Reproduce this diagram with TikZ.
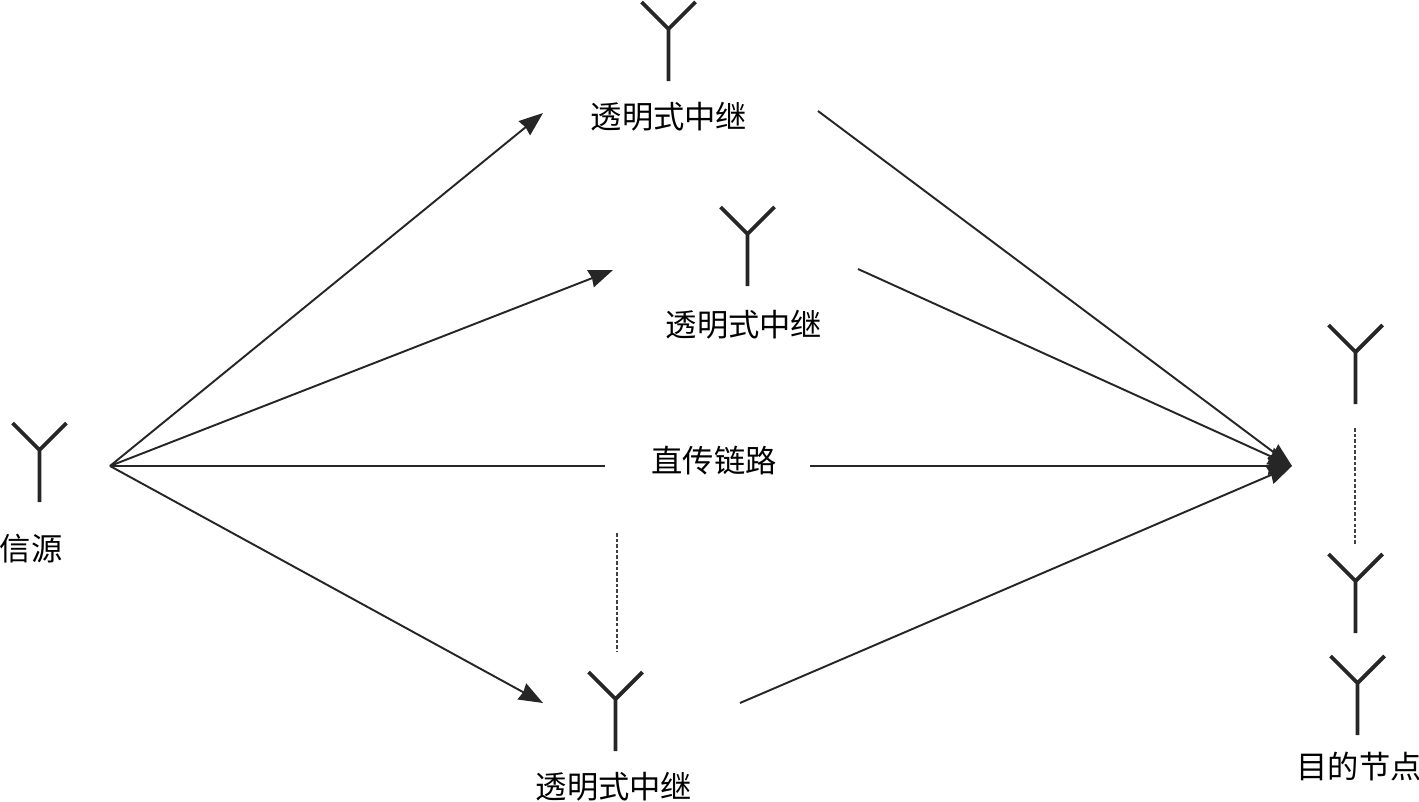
\documentclass[tikz,border=0pt]{standalone}
\usepackage{fontspec}
\setmainfont{Noto Sans CJK SC}
\usetikzlibrary{arrows.meta}
\tikzset{
  link/.style={line width=1.1pt,color=black!85},
  arrowlink/.style={link,-{Stealth[length=0.48cm,width=0.36cm,inset=0.03cm]}},
  antenna/.style={line width=2.2pt,color=black!85},
  gap/.style={line width=1pt,dash pattern=on 2pt off 1.2pt,color=black!75},
  lbl/.style={inner sep=0pt,font=\fontsize{17.8pt}{20pt}\selectfont},
}
\begin{document}
\begin{tikzpicture}[x=0.02cm,y=-0.02cm]
\useasboundingbox (0,0) rectangle (1419,801);
% antennas, junction of the Y given
\foreach \x/\y in {39.5/450,668.5/29,747.5/234,615.5/699,1355.5/352,1355.5/581,1357.5/683}
   \draw[antenna] (\x-27,\y-27) -- (\x,\y) -- (\x+27,\y-27) (\x,\y) -- (\x,\y+52);
% labels
\node[lbl] (src) at (31,549) {信源};
\node[lbl] (r1) at (669,117) {透明式中继};
\node[lbl] (r2) at (744,325) {透明式中继};
\node[lbl] (r3) at (614,787) {透明式中继};
\node[lbl] (dir) at (714,461) {直传链路};
\node[lbl] (dst) at (1359,767) {目的节点};
% link ends
\coordinate (tx) at (110,466);
\coordinate (rx) at (1292,466);
\coordinate (r1in) at (543,113);
\coordinate (r2in) at (613,270);
\coordinate (r3in) at (543,703);
\coordinate (r1out) at (818,111);
\coordinate (r2out) at (858,269);
\coordinate (r3out) at (740,703);
\coordinate (dirin) at (605,466);
\coordinate (dirout) at (810,466);
\foreach \a in {r1in,r2in,r3in}
    \draw[arrowlink] (tx) -- (\a);
\foreach \b in {r1out,r2out,r3out,dirout}
    \draw[arrowlink] (\b) -- (rx);
\draw[link] (tx) -- (dirin);
% dots between relays and between receive antennas
\coordinate (g1a) at (617,533);
\coordinate (g1b) at (617,652);
\coordinate (g2a) at (1355,428);
\coordinate (g2b) at (1355,545);
\draw[gap] (g1a) -- (g1b);
\draw[gap] (g2a) -- (g2b);
\end{tikzpicture}
\end{document}
